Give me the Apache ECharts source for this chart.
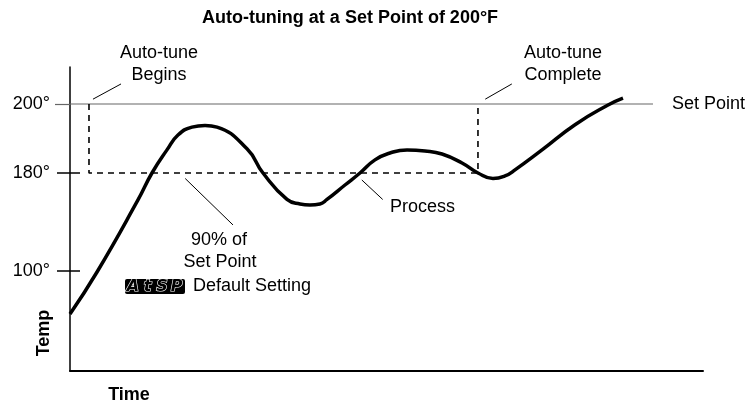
<!DOCTYPE html>
<html>
<head>
<meta charset="utf-8">
<script src="https://cdn.jsdelivr.net/npm/echarts@6/dist/echarts.min.js"></script>
<style>
  html, body { margin: 0; padding: 0; background: #fff; }
  #main { width: 750px; height: 404px; }
</style>
</head>
<body>
<div id="main"></div>
<script>
// process temperature over time (time in arbitrary units, temp in °F)
var processTime = [0, 4.27, 10.74, 12.95, 15.32, 17.06, 19.27, 21.33, 23.22, 27.96, 30.49, 34.28, 36.33, 37.91, 39.49, 40.6, 43.44, 45.81, 48.18, 50.55, 53.24, 56.08, 58.77, 61.93, 64.45, 66.82, 68.72, 70.3, 74.57, 79.78, 85.0, 87.36];
var processTemp = [65, 99.2, 158, 180, 186.7, 191, 193.3, 193.8, 193.3, 187, 180, 158.4, 154.7, 153.9, 154.7, 158.4, 170.2, 180, 183.8, 185.8, 186.7, 186.4, 185.5, 182.9, 180, 175.5, 177.6, 180.9, 186.7, 194, 199.7, 201.7];

var setPoint = 200;
var autoTuneLevel = 180;      // 90% of set point
var setPointLineTime = [0, 92.1];
var autoTuneBegin = 3.0;
var autoTuneEnd = 64.45;

// tick labels on the temperature axis
var labelTemps = [200, 180, 100];
var tickTemps = [180, 100];

// the temp axis of the drawing is not linear: breakpoints temp -> axis position
var scaleTemp = [18.4, 100, 180, 200, 210.7];
var scalePos = [0, 100, 198, 267, 304];

// leader lines of the notes [time, temp]
var leaderBegins = [[3.63, 201.4], [8.06, 205.8]];
var leaderComplete = [[65.6, 201.4], [69.8, 205.8]];
var leaderNinety = [[18.2, 175.5], [25.75, 137.6]];
var leaderProcess = [[46.1, 174.3], [49.4, 158.4]];

var FONT = '"Liberation Sans", Arial, Helvetica, sans-serif';

function interp(v, xs, ys) {
    var i = 1;
    while (i < xs.length - 1 && v > xs[i]) i++;
    var x0 = xs[i - 1], x1 = xs[i], y0 = ys[i - 1], y1 = ys[i];
    return y0 + (v - x0) * (y1 - y0) / (x1 - x0);
}
function toAxis(t) { return interp(t, scaleTemp, scalePos); }
function fromAxis(p) { return interp(p, scalePos, scaleTemp); }

function pts(list) {
    return list.map(function (p) { return [p[0], toAxis(p[1])]; });
}

var processData = processTime.map(function (t, i) { return [t, toAxis(processTemp[i])]; });

var dashData = pts([[autoTuneBegin, setPoint], [autoTuneBegin, autoTuneLevel],
                    [autoTuneEnd, autoTuneLevel], [autoTuneEnd, setPoint]]);

function leader(data) {
    return {
        type: 'line', data: pts(data), symbol: 'none', silent: true,
        lineStyle: { color: '#000', width: 1 }, clip: false
    };
}

function txt(x, y, s, opt) {
    opt = opt || {};
    return {
        type: 'text', x: x, y: y, rotation: opt.rotation || 0,
        style: {
            text: s, fontFamily: FONT, fontSize: opt.size || 18,
            fontWeight: opt.bold ? 'bold' : 'normal', fill: '#000',
            align: opt.align || 'center', verticalAlign: 'middle'
        }
    };
}

// hidden axis that only carries ticks
function tickAxis(values, len, inside, color, width) {
    return {
        type: 'value', min: 0, max: 304, position: 'left',
        axisLine: { show: false },
        axisTick: { show: true, inside: inside, length: len, lineStyle: { color: color, width: width },
            customValues: values.map(toAxis) },
        axisLabel: { show: false },
        splitLine: { show: false }
    };
}

var chart = echarts.init(document.getElementById('main'));

var option = {
    animation: false,
    backgroundColor: '#fff',
    grid: { left: 70, right: 47, top: 67, bottom: 33 },
    xAxis: {
        type: 'value', min: 0, max: 100,
        axisLine: { lineStyle: { color: '#000', width: 2 } },
        axisTick: { show: false }, axisLabel: { show: false }, splitLine: { show: false }
    },
    yAxis: [{
        type: 'value', min: 0, max: 304,
        axisLine: { show: true, lineStyle: { color: '#000', width: 1.5 } },
        axisTick: { show: true, length: 13, lineStyle: { color: '#000', width: 1.5 },
            customValues: tickTemps.map(toAxis) },
        axisLabel: {
            margin: 20, color: '#000', fontFamily: FONT, fontSize: 18,
            customValues: labelTemps.map(toAxis),
            formatter: function (v) { return Math.round(fromAxis(v)) + '°'; }
        },
        splitLine: { show: false }
    },
        tickAxis(tickTemps, 10, true, '#000', 1.5),       // inner half of crossing ticks
        tickAxis([setPoint], 15, false, '#666', 1.2)      // set point line left of the axis
    ],
    series: [{
        name: 'Set Point', type: 'line', symbol: 'none', clip: false, silent: true,
        data: setPointLineTime.map(function (t) { return [t, toAxis(setPoint)]; }),
        lineStyle: { color: '#666', width: 1.2 }
    }, {
        name: '90%', type: 'line', symbol: 'none', silent: true,
        data: dashData,
        lineStyle: { color: '#000', width: 1.6, type: [6, 5] }
    }, {
        name: 'Process', type: 'line', symbol: 'none', smooth: 0.5, silent: true,
        data: processData,
        lineStyle: { color: '#000', width: 3.5 }
    },
        leader(leaderBegins), leader(leaderComplete), leader(leaderNinety), leader(leaderProcess)
    ],
    graphic: [
        txt(350, 18, 'Auto-tuning at a Set Point of 200°F', { bold: true }),
        txt(159, 53, 'Auto-tune'), txt(159, 75, 'Begins'),
        txt(563, 53, 'Auto-tune'), txt(563, 75, 'Complete'),
        txt(672, 104, 'Set Point', { align: 'left' }),
        txt(219, 240, '90% of'), txt(220, 262, 'Set Point'),
        txt(193, 286, 'Default Setting', { align: 'left' }),
        txt(390, 207, 'Process', { align: 'left' }),
        txt(44, 333, 'Temp', { bold: true, rotation: Math.PI / 2 }),
        txt(129, 395, 'Time', { bold: true }),
        { type: 'rect', shape: { x: 125, y: 279, width: 60, height: 15, r: 2 }, style: { fill: '#000' } },
        {
            type: 'group', children: ['A', 't', 'S', 'P'].map(function (c, i) {
                return {
                    type: 'text', x: 133 + i * 14.5, y: 287,
                    style: {
                        text: c, fontFamily: '"DejaVu Sans", sans-serif', fontSize: 16,
                        fontWeight: 'bold', fontStyle: 'italic', fill: '#000',
                        stroke: '#fff', lineWidth: 1.2, align: 'center', verticalAlign: 'middle'
                    }
                };
            })
        }
    ]
};

chart.setOption(option);
</script>
</body>
</html>
